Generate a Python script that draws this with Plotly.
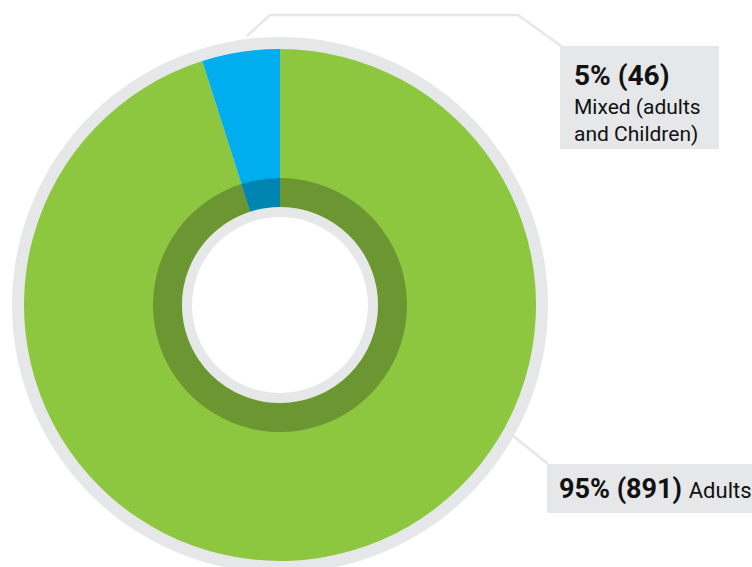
import plotly.graph_objects as go

W, H = 752, 567

labels = ["Adults", "Mixed (adults and Children)"]
counts = [891, 46]
percents = [95, 5]
outer_colors = ["#8dc63f", "#00aeef"]
inner_colors = ["#6c9632", "#0085b2"]
grey = "#e6e7e8"

cx, cy = 280, 305  # pie centre in pixels (from top)


def px(x):
    return x / W


def py(y):
    return 1 - y / H


def domain(r):
    return dict(x=[px(cx - r), px(cx + r)], y=[py(cy + r), py(cy - r)])


fig = go.Figure()
fig.add_trace(go.Pie(labels=labels, values=counts, sort=False, direction="clockwise",
                     rotation=0, marker=dict(colors=outer_colors, line=dict(width=0)),
                     textinfo="none", hoverinfo="label+value+percent", domain=domain(256),
                     showlegend=False))
fig.add_trace(go.Pie(labels=labels, values=counts, sort=False, direction="clockwise",
                     rotation=0, hole=98 / 127, marker=dict(colors=inner_colors, line=dict(width=0)),
                     textinfo="none", hoverinfo="skip", domain=domain(127),
                     showlegend=False))


def circle(r, **kw):
    return dict(type="circle", xref="paper", yref="paper",
                x0=px(cx - r), x1=px(cx + r), y0=py(cy + r), y1=py(cy - r), **kw)


shapes = [
    circle(268, fillcolor=grey, line=dict(width=0), layer="below"),
    circle(93, fillcolor="white", line=dict(color=grey, width=10), layer="above"),
    dict(type="path", xref="paper", yref="paper",
         path="M {} {} L {} {} L {} {} L {} {}".format(px(247), py(36), px(270), py(15),
                                                      px(518), py(15), px(561), py(46)),
         line=dict(color=grey, width=2.5)),
    dict(type="line", xref="paper", yref="paper", x0=px(512), y0=py(435), x1=px(548), y1=py(464),
         line=dict(color=grey, width=2.5)),
    dict(type="rect", xref="paper", yref="paper", x0=px(560), x1=px(719), y0=py(149), y1=py(46),
         fillcolor=grey, line=dict(width=0), layer="below"),
    dict(type="rect", xref="paper", yref="paper", x0=px(547), x1=px(752), y0=py(513), y1=py(464),
         fillcolor=grey, line=dict(width=0), layer="below"),
]

font = "Roboto, Arial"
annotations = [
    dict(text="<b>{}% ({})</b>".format(percents[1], counts[1]), x=px(572), y=py(75),
         xanchor="left", yanchor="middle", showarrow=False,
         font=dict(family=font, size=28, color="#111111")),
    dict(text="Mixed (adults<br>and Children)", x=px(572), y=py(121),
         xanchor="left", yanchor="middle", showarrow=False, align="left",
         font=dict(family=font, size=21, color="#111111")),
    dict(text="<b>{}% ({})</b> <span style='font-size:22px'>{}</span>".format(percents[0], counts[0], labels[0]),
         x=px(557), y=py(489), xanchor="left", yanchor="middle", showarrow=False,
         font=dict(family=font, size=27, color="#111111")),
]

fig.update_layout(width=W, height=H, margin=dict(l=0, r=0, t=0, b=0),
                  paper_bgcolor="white", plot_bgcolor="white",
                  shapes=shapes, annotations=annotations)

fig.write_html("out.html", config={"displayModeBar": False},
               post_script="document.body.style.margin='0';")
